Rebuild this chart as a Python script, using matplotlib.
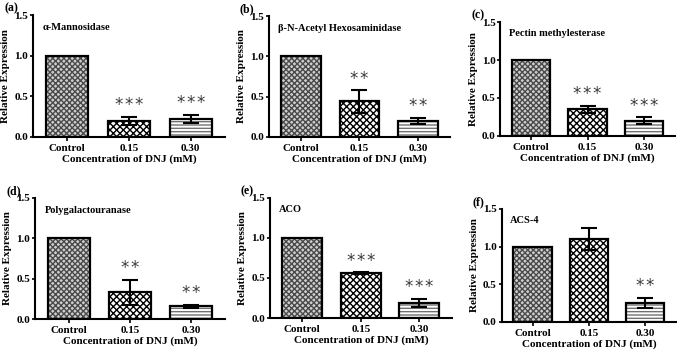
import numpy as np
import matplotlib
matplotlib.use('Agg')
import matplotlib.pyplot as plt

plt.rcParams['font.family'] = ['Liberation Serif', 'DejaVu Serif']
plt.rcParams['font.weight'] = 'bold'
plt.rcParams['hatch.linewidth'] = 1.0

# data
groups = ['Control', '0.15', '0.30']
panel_letters = ['(a)', '(b)', '(c)', '(d)', '(e)', '(f)']
genes = ['\u03b1-Mannosidase', '\u03b2-N-Acetyl Hexosaminidase', 'Pectin methylesterase',
         'Polygalactouranase', 'ACO', 'ACS-4']
means = [
    [1.0, 0.20, 0.22],
    [1.0, 0.44, 0.20],
    [1.0, 0.35, 0.20],
    [1.0, 0.33, 0.16],
    [1.0, 0.56, 0.19],
    [1.0, 1.10, 0.25],
]
errs = [
    [0.0, 0.05, 0.055],
    [0.0, 0.14, 0.04],
    [0.0, 0.05, 0.05],
    [0.0, 0.16, 0.02],
    [0.0, 0.01, 0.05],
    [0.0, 0.15, 0.07],
]
stars = [
    ['', '***', '***'],
    ['', '**', '**'],
    ['', '***', '***'],
    ['', '**', '**'],
    ['', '***', '***'],
    ['', '', '**'],
]
yticks = [0.0, 0.5, 1.0, 1.5]

# axes boxes [left, bottom, width, height] in figure fraction
boxes = [
    [0.049, 0.610, 0.283, 0.347],
    [0.397, 0.610, 0.268, 0.344],
    [0.739, 0.613, 0.258, 0.324],
    [0.052, 0.091, 0.280, 0.345],
    [0.399, 0.094, 0.268, 0.342],
    [0.741, 0.083, 0.258, 0.322],
]

face = ['#cfcfcf', 'white', 'white']
hatch = ['xxxxxx', 'xxxxx', '-----']
hcol = ['#4a4a4a', 'black', '#707070']

fig = plt.figure(figsize=(6.77, 3.51), dpi=100)

for i in range(6):
    ax = fig.add_axes(boxes[i])
    x = np.arange(len(groups))
    # hatched fill, then outline on top
    for j in range(3):
        ax.bar(x[j], means[i][j], width=0.68, color=face[j], hatch=hatch[j],
               edgecolor=hcol[j], linewidth=0, zorder=2)
    ax.bar(x, means[i], width=0.68, fill=False, edgecolor='black', linewidth=1.6, zorder=3)
    for j in range(1, 3):
        ax.errorbar(x[j], means[i][j], yerr=errs[i][j], color='black', capsize=6,
                    elinewidth=1.5, capthick=1.5, fmt='none', zorder=4)
        if stars[i][j]:
            ax.text(x[j], means[i][j] + errs[i][j] + 0.03, '\u200a'.join(stars[i][j]),
                    ha='center', va='bottom', fontsize=12, fontweight='normal',
                    color='#3a3a3a', family='DejaVu Sans')
    ax.set_xlim(-0.55, 2.55)
    ax.set_ylim(0, 1.5)
    ax.set_yticks(yticks)
    ax.set_yticklabels(['0.0', '0.5', '1.0', '1.5'])
    ax.set_xticks(x)
    ax.set_xticklabels(groups)
    ax.tick_params(axis='x', length=3, width=1.2, labelsize=8, pad=2)
    ax.tick_params(axis='y', length=2.5, width=1.2, labelsize=8, pad=1)
    for s in ['top', 'right']:
        ax.spines[s].set_visible(False)
    for s in ['left', 'bottom']:
        ax.spines[s].set_linewidth(1.5)
    ax.set_ylabel('Relative Expression', fontsize=8, fontweight='bold', labelpad=3)
    ax.set_xlabel('Concentration of DNJ (mM)', fontsize=8, fontweight='bold', labelpad=1)
    ax.text(0.05, 0.9, genes[i], transform=ax.transAxes, fontsize=7.5,
            fontweight='bold', va='center')
    ax.annotate(panel_letters[i], xy=(0, 1), xycoords='axes fraction',
                xytext=(-21, 5), textcoords='offset points', fontsize=8.5,
                fontweight='bold', va='center')

fig.savefig('out.png', dpi=100)
